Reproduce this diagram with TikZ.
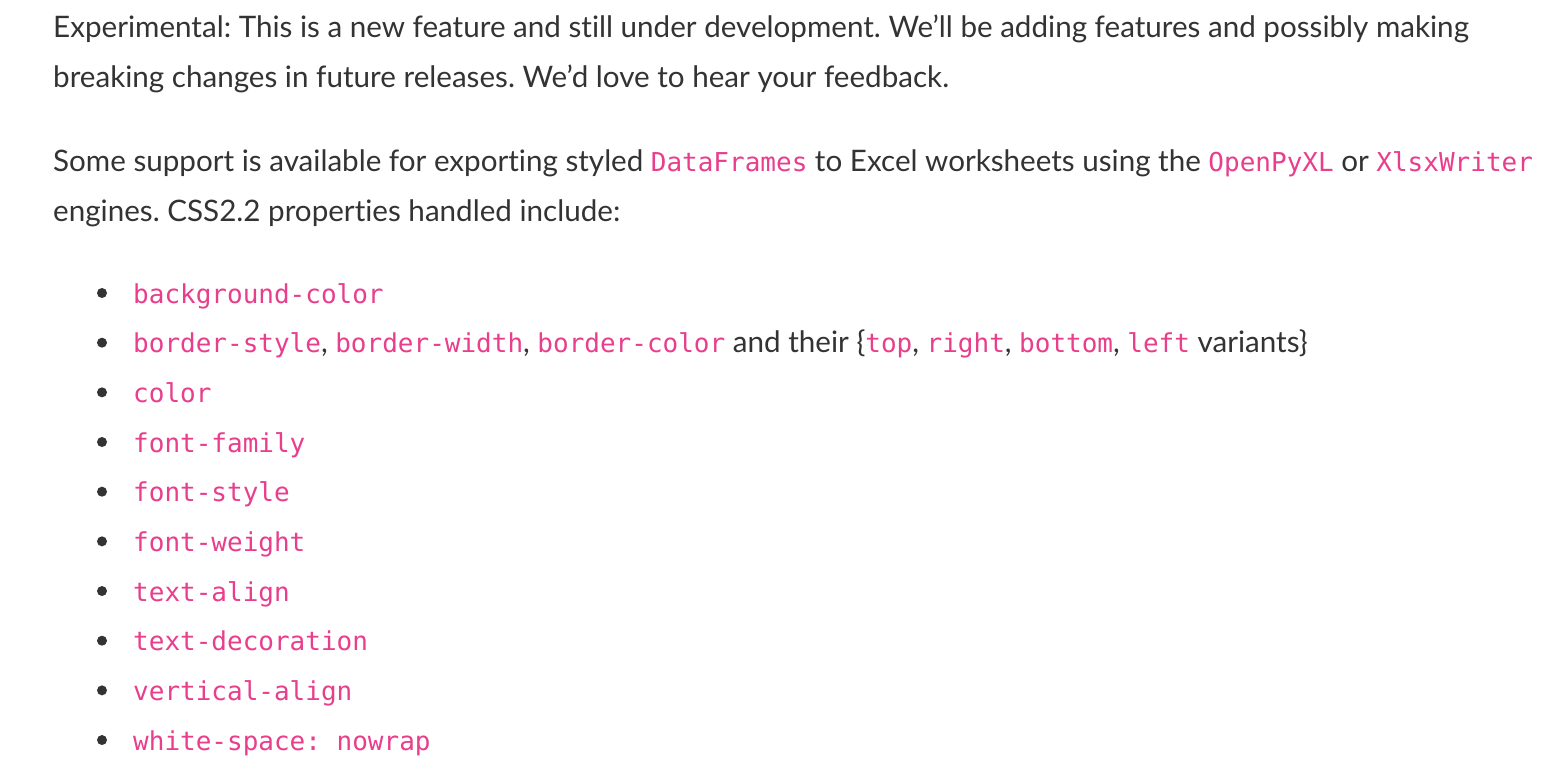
\documentclass[tikz,border=0pt]{standalone}
\usepackage{fontspec}
\setmainfont{Lato}[Ligatures=NoCommon]
\newfontfamily\codefont{DejaVu Sans Mono}
\definecolor{txt}{HTML}{333333}
\definecolor{pinkc}{HTML}{E83E8C}
\newcommand\cd[1]{{\codefont\fontsize{26}{30}\selectfont\color{pinkc}#1}}
\frenchspacing
\begin{document}
\begin{tikzpicture}[x=1pt,y=-1pt,
  line/.style={anchor=base west, inner sep=0pt, text=txt, font=\fontsize{29.6}{34}\selectfont\frenchspacing},
  dot/.style={circle, fill=txt, inner sep=0pt, minimum size=10pt}]
\useasboundingbox (0,0) rectangle (1544,768);
\fill[white] (0,0) rectangle (1544,768);
\node[line] (p1a) at (53,37.5) {Experimental: This is a new feature and still under development. We’ll be adding features and possibly making};
\node[line] (p1b) at (53,87.2) {breaking changes in future releases. We’d love to hear your feedback.};
\node[line] (p2a) at (53,171.5) {Some support is available for exporting styled \cd{DataFrames} to Excel worksheets using the \cd{OpenPyXL} or \cd{XlsxWriter}};
\node[line] (p2b) at (53,221.2) {engines. CSS2.2 properties handled include:};
\foreach \t [count=\i from 0] in {
  {\cd{background-color}},
  {\cd{border-style}, \cd{border-width}, \cd{border-color} and their \{\cd{top}, \cd{right}, \cd{bottom}, \cd{left} variants\}},
  {\cd{color}},
  {\cd{font-family}},
  {\cd{font-style}},
  {\cd{font-weight}},
  {\cd{text-align}},
  {\cd{text-decoration}},
  {\cd{vertical-align}},
  {\cd{white-space: nowrap}}}{
  \node[line] (item\i) at (133,{303+49.67*\i}) {\t};
  \node[dot] (bullet\i) at (102,{293+49.67*\i}) {};
}
\end{tikzpicture}
\end{document}
